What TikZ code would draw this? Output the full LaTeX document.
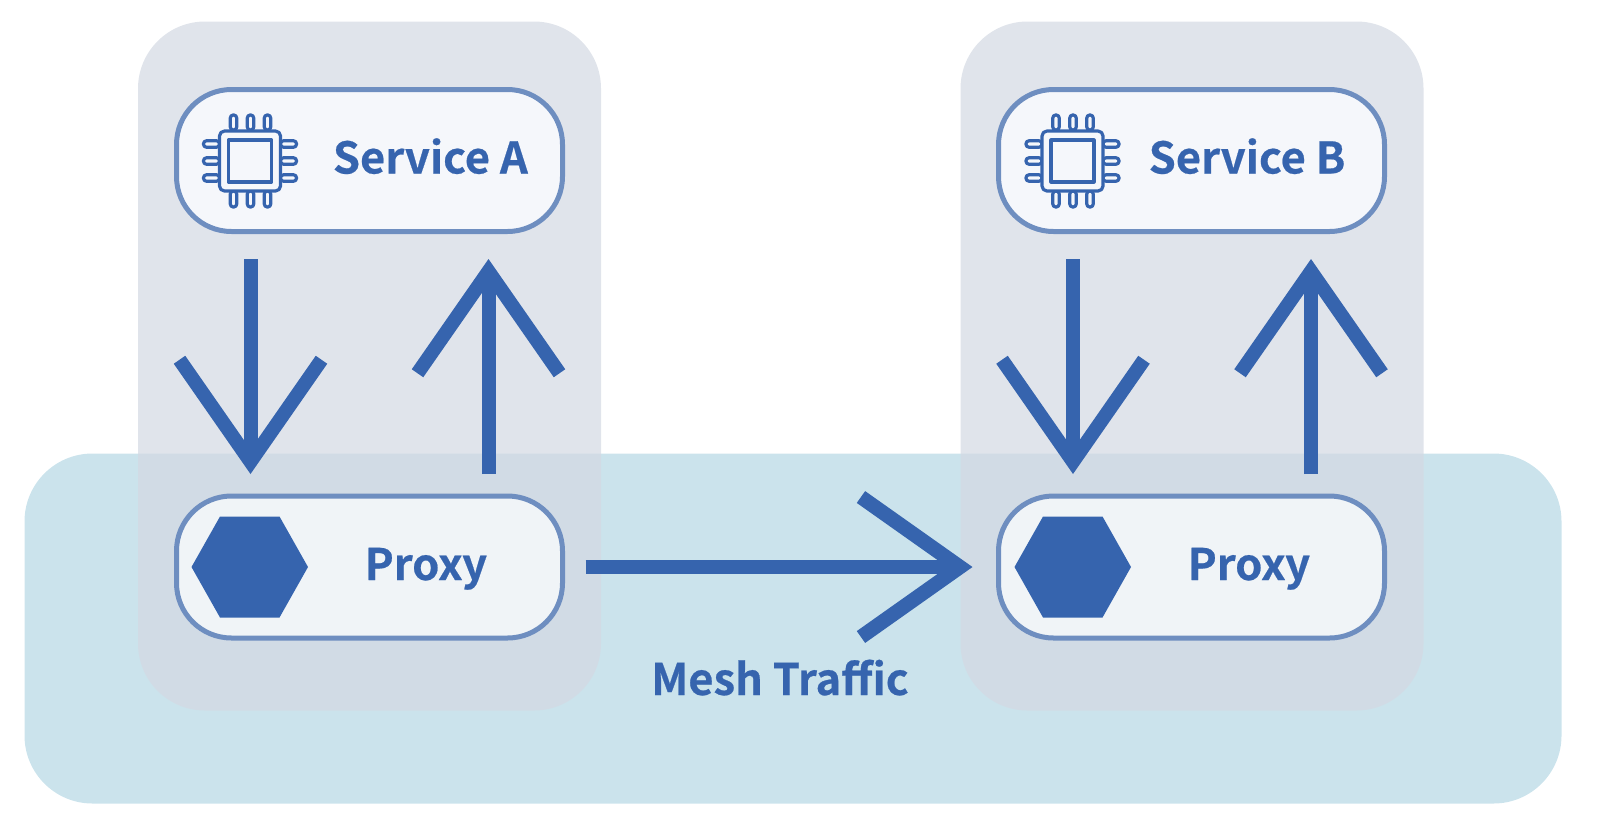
\documentclass[tikz,border=0pt]{standalone}
\usepackage{fontspec}
\setmainfont{Noto Sans CJK SC}[BoldFont={Noto Sans CJK SC Bold},BoldFeatures={FakeBold=0.5}]
\usetikzlibrary{arrows.meta}
\definecolor{ink}{HTML}{3664AE}
\definecolor{edgeblue}{HTML}{6E8EC0}
\definecolor{meshbg}{HTML}{CBE3EC}
\definecolor{groupbg}{RGB}{212,217,227}
\definecolor{svcfill}{HTML}{F5F7FB}
\definecolor{proxyfill}{HTML}{F0F4F7}
\tikzset{
  x=1pt,y=-1pt,
  panel/.style={rounded corners=67pt,minimum width=463pt,minimum height=689pt,inner sep=0pt,fill=groupbg,fill opacity=.71},
  meshpanel/.style={rounded corners=68pt,minimum width=1537pt,minimum height=350pt,inner sep=0pt,fill=meshbg},
  svcbox/.style={draw=edgeblue,line width=5pt,rounded corners=55pt,minimum width=386pt,minimum height=142pt,inner sep=0pt,fill=svcfill},
  proxybox/.style={svcbox,fill=proxyfill},
  label/.style={font=\fontsize{43.5}{45}\selectfont\bfseries,text=ink,inner sep=0pt,anchor=base west},
  flow/.style={draw=ink,line width=14pt,-{Straight Barb[length=102pt,width=142pt,line width=14pt]}},
  meshflow/.style={draw=ink,line width=14.5pt,-{Straight Barb[length=99pt,width=140pt,line width=14.5pt]}},
  hexa/.style={fill=ink,draw=none},
  chipicon/.pic={
    \begin{scope}[draw=ink,line width=3.2pt,line join=round]
      \foreach \d in {-17,0,17}{
        \draw[rounded corners=2.9pt] (\d-3.2,-31) rectangle (\d+3.2,-46);
        \draw[rounded corners=2.9pt] (\d-3.2,30) rectangle (\d+3.2,46);
        \draw[rounded corners=2.9pt] (-31,\d-3.2) rectangle (-47,\d+3.2);
        \draw[rounded corners=2.9pt] (30,\d-3.2) rectangle (46,\d+3.2);
      }
      \draw[rounded corners=5pt,fill=svcfill] (-31,-30) rectangle (30,30);
      \draw (-22,-21) rectangle (21,21);
    \end{scope}
  }
}
\begin{document}
\begin{tikzpicture}
\useasboundingbox (0,0) rectangle (1602,831);
\node[meshpanel] (mesh) at (793,628.5) {};
\node[panel] (groupA) at (369.5,366) {};
\node[panel] (groupB) at (1192,366) {};
\node[svcbox] (svcA) at (369.5,160.5) {};
\node[svcbox] (svcB) at (1191.5,160.5) {};
\node[proxybox] (proxyA) at (369.5,567) {};
\node[proxybox] (proxyB) at (1191.5,567) {};
\pic at (250.5,161) {chipicon};
\pic at (1073,161) {chipicon};
\node[label] (tA) at (332.7,173.5) {Service A};
\node[label] (tB) at (1148.5,173.5) {Service B};
\node[label] (pA) at (364.5,580) {Proxy};
\node[label] (pB) at (1187.5,580) {Proxy};
\node[label] (tM) at (651,695) {Mesh Traffic};
\fill[hexa] (191.5,567) -- (220,516.5) -- (279.5,516.5) -- (308,567) -- (279.5,617.5) -- (220,617.5) -- cycle;
\fill[hexa] (1014.5,567) -- (1043,516.5) -- (1102.5,516.5) -- (1131,567) -- (1102.5,617.5) -- (1043,617.5) -- cycle;
\coordinate (a1) at (250.5,259); \coordinate (a2) at (250.5,474);
\coordinate (a3) at (488.5,474); \coordinate (a4) at (488.5,259);
\coordinate (b1) at (1073,259); \coordinate (b2) at (1073,474);
\coordinate (b3) at (1311,474); \coordinate (b4) at (1311,259);
\coordinate (m1) at (585.5,567); \coordinate (m2) at (972.5,567);
\draw[flow] (a1) -- (a2);
\draw[flow] (a3) -- (a4);
\draw[flow] (b1) -- (b2);
\draw[flow] (b3) -- (b4);
\draw[meshflow] (m1) -- (m2);
\end{tikzpicture}
\end{document}
